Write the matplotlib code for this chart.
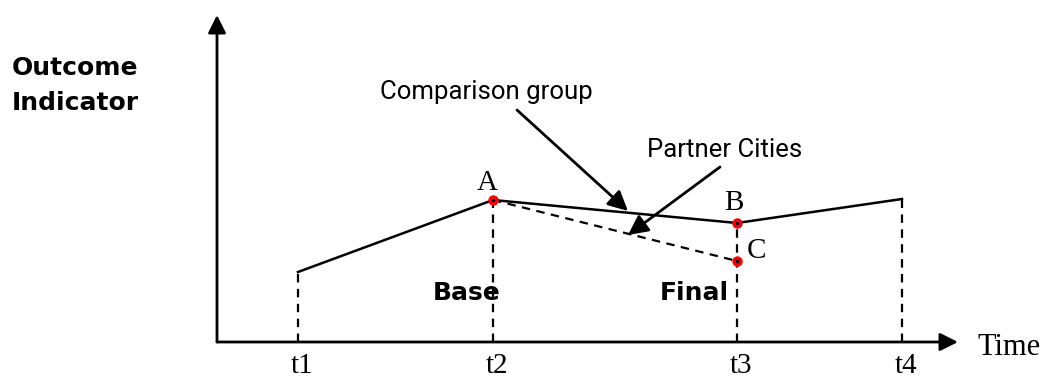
import numpy as np
import matplotlib.pyplot as plt

# time points (x) and outcome values
times = [8.1, 27.6, 52.0, 68.5]
time_labels = ['t1', 't2', 't3', 't4']
comparison = [7.0, 14.2, 11.9, 14.3]
partner_times = [27.6, 52.0]
partner = [14.2, 8.1]
point_labels = ['A', 'B', 'C']
point_x = [27.6, 52.0, 52.0]
point_y = [14.2, 11.9, 8.1]

fig = plt.figure(figsize=(10.46, 3.81), dpi=100)
ax = fig.add_axes([0, 0, 1, 1])
ax.set_xlim(-21.7, 82.9)
ax.set_ylim(-3.9, 34.2)
ax.axis('off')

serif = 'Liberation Serif'
dash = (0, (3.8, 2.9))

# axes with arrow heads
ax.annotate('', xy=(0, 32.7), xytext=(0, 0),
            arrowprops=dict(arrowstyle='-|>', mutation_scale=27, lw=2, color='k',
                            shrinkA=0, shrinkB=0))
ax.annotate('', xy=(74.1, 0), xytext=(0, 0),
            arrowprops=dict(arrowstyle='-|>', mutation_scale=27, lw=2, color='k',
                            shrinkA=0, shrinkB=0))

# dashed drop lines
for t, v in zip(times, comparison):
    ax.plot([t, t], [0, v], color='k', lw=1.6, linestyle=dash)

# comparison group (solid) and partner cities (dashed)
ax.plot(times, comparison, color='k', lw=1.8, solid_joinstyle='miter')
ax.plot(partner_times, partner, color='k', lw=1.6, linestyle=dash)

# red points with a black centre
ax.plot(point_x, point_y, 'o', color='red', markersize=6.5, zorder=5)
ax.plot(point_x, point_y, 'o', color='k', markersize=1.5, zorder=6)

# point letters
offsets = [(-0.6, 1.0), (-0.3, 1.3), (2.0, 0.3)]
for lab, x, y, (dx, dy) in zip(point_labels, point_x, point_y, offsets):
    ax.text(x + dx, y + dy, lab, fontsize=21, family=serif, ha='center', va='baseline')

# time tick labels
for t, lab in zip(times, time_labels):
    ax.text(t + 0.4, -3.7, lab, fontsize=21, family=serif, ha='center', va='bottom')
ax.text(76.1, -1.3, 'Time', fontsize=22, family=serif, ha='left', va='baseline')

# y label
ax.text(-20.5, 26.7, 'Outcome', fontsize=18, fontweight='bold', ha='left', va='baseline')
ax.text(-20.5, 23.2, 'Indicator', fontsize=18, fontweight='bold', ha='left', va='baseline')

# base / final
ax.text(21.6, 4.2, 'Base', fontsize=18, fontweight='bold', ha='left', va='baseline')
ax.text(44.3, 4.2, 'Final', fontsize=18, fontweight='bold', ha='left', va='baseline')

# callouts
ax.text(16.3, 24.3, 'Comparison group', fontsize=18.5, family='Roboto', ha='left', va='baseline')
ax.text(43.0, 18.5, 'Partner Cities', fontsize=18.5, family='Roboto', ha='left', va='baseline')
ax.annotate('', xy=(41.1, 13.1), xytext=(30.0, 23.2),
            arrowprops=dict(arrowstyle='-|>', mutation_scale=30, lw=2, color='k',
                            shrinkA=0, shrinkB=0))
ax.annotate('', xy=(41.1, 10.7), xytext=(50.3, 17.5),
            arrowprops=dict(arrowstyle='-|>', mutation_scale=30, lw=2, color='k',
                            shrinkA=0, shrinkB=0))

fig.savefig('out.png', dpi=100)
